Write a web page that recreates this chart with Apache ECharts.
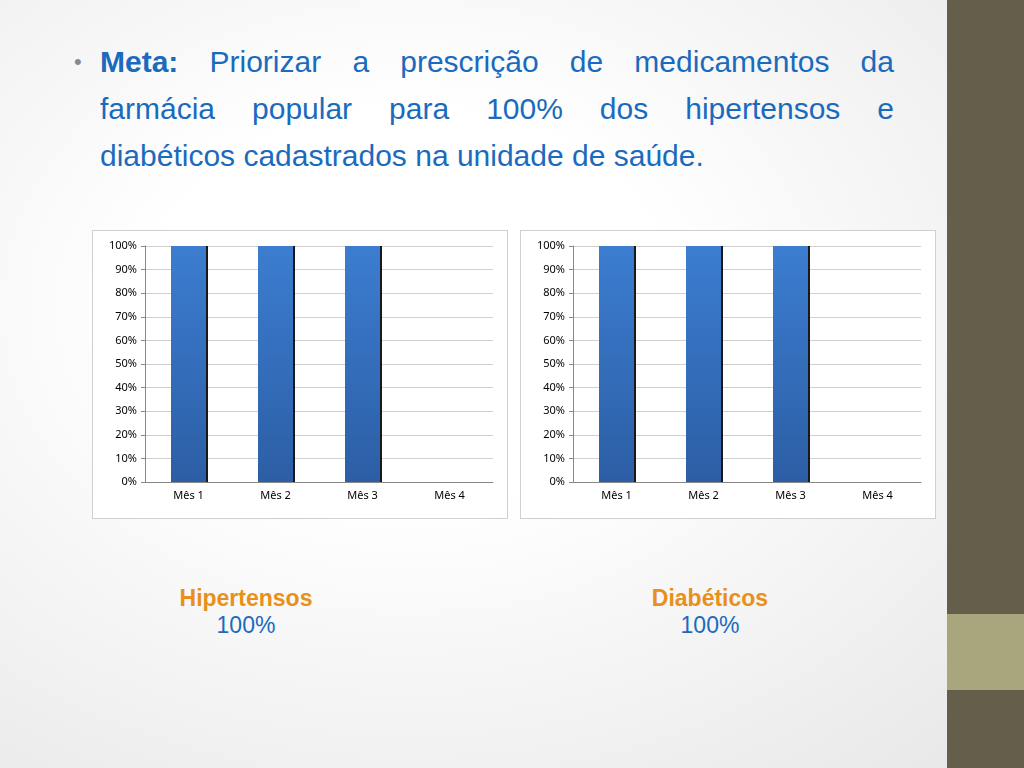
<!DOCTYPE html>
<html>
<head>
<meta charset="utf-8">
<script src="https://cdn.jsdelivr.net/npm/echarts@6/dist/echarts.min.js"></script>
<style>
    body{margin:0;width:1024px;height:768px;overflow:hidden;font-family:"Liberation Sans",Arial,sans-serif;
        background:radial-gradient(ellipse at 40% 40%,#ffffff 30%,#e6e6e6 100%);position:relative;}
    .side{position:absolute;left:947px;top:0;width:77px;height:768px;background:#655e4a;}
    .side2{position:absolute;left:947px;top:614px;width:77px;height:76px;background:#a9a57c;}
    .meta{position:absolute;left:100px;top:38px;width:794px;font-size:30px;line-height:47px;color:#1a6bbd;}
    .meta div{white-space:nowrap;}
    .meta .j{text-align:justify;text-align-last:justify;white-space:normal;}
    .meta:before{content:"•";position:absolute;left:-26px;color:#8a8a8a;font-size:22px;}
    .box{position:absolute;width:414px;height:287px;border:1px solid #d0d0d0;background:#fff;}
    .lbl{position:absolute;font-size:23px;text-align:center;width:200px;}
    .lbl b{color:#e8901a;display:block;}
    .lbl span{color:#1a6bbd;}
    #chart{position:absolute;left:0;top:0;width:1024px;height:768px;}
</style>
</head>
<body>
<div class="side"></div><div class="side2"></div>
<div class="meta">
    <div class="j"><b>Meta:</b> Priorizar a prescrição de medicamentos da</div>
    <div class="j">farmácia popular para 100% dos hipertensos e</div>
    <div>diabéticos cadastrados na unidade de saúde.</div>
</div>
<div class="box" style="left:92px;top:230px"></div>
<div class="box" style="left:520px;top:230px"></div>
<div class="lbl" style="left:146px;top:585px"><b>Hipertensos</b><span>100%</span></div>
<div class="lbl" style="left:610px;top:585px"><b>Diabéticos</b><span>100%</span></div>
<div id="chart"></div>
<script>
    var meses = ['Mês 1','Mês 2','Mês 3','Mês 4'];
    var hipertensos = [1, 1, 1, null];
    var diabeticos = [1, 1, 1, null];

    var chart = echarts.init(document.getElementById('chart'));
    var barColor = new echarts.graphic.LinearGradient(0,0,0,1,[{offset:0,color:'#3c7dd0'},{offset:1,color:'#2c5ea5'}]);
    function axes(i){
        return {
            x: {type:'category',gridIndex:i,data:meses,axisTick:{show:false},
                axisLine:{lineStyle:{color:'#888'}},axisLabel:{color:'#000',fontSize:11,fontFamily:'Noto Sans'}},
            y: {type:'value',gridIndex:i,min:0,max:1,interval:0.1,
                axisLine:{show:true,lineStyle:{color:'#888'}},axisTick:{show:true,length:4,lineStyle:{color:'#888'}},
                splitLine:{lineStyle:{color:'#d0d0d0'}},
                axisLabel:{color:'#000',fontSize:11,fontFamily:'Noto Sans',formatter:function(v){return Math.round(v*100)+'%';}}}
        };
    }
    var a0 = axes(0), a1 = axes(1);
    function bars(i, data){
        return {type:'bar',xAxisIndex:i,yAxisIndex:i,data:data,barWidth:35,
            itemStyle:{color:barColor,shadowColor:'rgba(0,0,0,0.9)',shadowOffsetX:2,shadowOffsetY:0,shadowBlur:0}};
    }
    chart.setOption({
        animation:false,
        grid:[{left:145,top:246,width:348,height:236},{left:573,top:246,width:348,height:236}],
        xAxis:[a0.x,a1.x],
        yAxis:[a0.y,a1.y],
        series:[bars(0,hipertensos),bars(1,diabeticos)]
    });
</script>
</body>
</html>
